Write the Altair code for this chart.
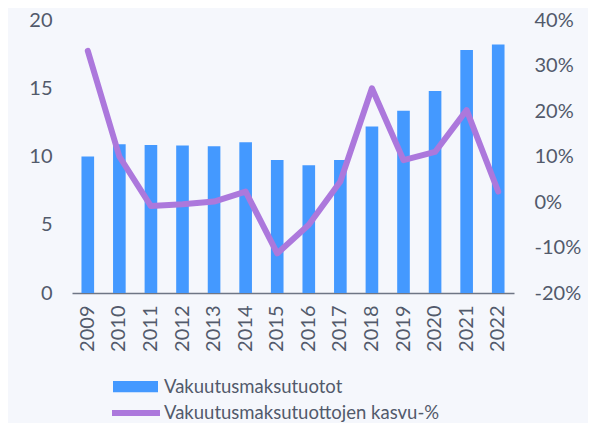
import altair as alt
import pandas as pd

years = ["2009", "2010", "2011", "2012", "2013", "2014", "2015",
         "2016", "2017", "2018", "2019", "2020", "2021", "2022"]
premiums = [10.0, 10.9, 10.85, 10.8, 10.75, 11.05, 9.75,
            9.35, 9.75, 12.2, 13.35, 14.8, 17.8, 18.2]
growth = [33.2, 10.0, -0.9, -0.5, 0.1, 2.3, -11.3,
          -5.0, 4.5, 25.0, 9.2, 11.0, 20.2, 2.3]
bar_name = "Vakuutusmaksutuotot"
line_name = "Vakuutusmaksutuottojen kasvu-%"

df = pd.DataFrame({"year": years, "premium": premiums, "growth": growth,
                   "s1": bar_name, "s2": line_name})

FONT = "Lato"
TXT = "#525a6b"
BAR = "#4499FF"
LINE = "#AC78DC"

x = alt.X("year:O", title=None,
          scale=alt.Scale(paddingInner=0.6, paddingOuter=0.3),
          axis=alt.Axis(labelAngle=-90, ticks=False, domainColor="#6f7685",
                        domainWidth=1.5, labelPadding=12))

bars = alt.Chart(df).mark_bar().encode(
    x=x,
    y=alt.Y("premium:Q", title=None,
            scale=alt.Scale(domain=[0, 20]),
            axis=alt.Axis(values=[0, 5, 10, 15, 20], grid=False, domain=False,
                          ticks=False, labelPadding=20)),
    color=alt.Color("s1:N", scale=alt.Scale(range=[BAR]),
                    legend=alt.Legend(title=None, orient="none", legendX=41, legendY=344,
                                      symbolType="M-1,-0.25H1V0.25H-1Z",
                                      symbolSize=2025, symbolStrokeWidth=0,
                                      labelOffset=6)),
)

line = alt.Chart(df).mark_line(strokeWidth=6, strokeCap="round", strokeJoin="round").encode(
    x=x,
    y=alt.Y("growth:Q", title=None,
            scale=alt.Scale(domain=[-20, 40]),
            axis=alt.Axis(orient="right", values=[-20, -10, 0, 10, 20, 30, 40],
                          labelExpr="datum.value + '%'", grid=False, domain=False,
                          ticks=False, labelPadding=20)),
    stroke=alt.Stroke("s2:N", scale=alt.Scale(range=[LINE]),
                      legend=alt.Legend(title=None, orient="none", legendX=37, legendY=366,
                                        symbolType="stroke", symbolSize=2304,
                                        symbolStrokeWidth=6, labelOffset=1)),
)

chart = alt.layer(bars, line).resolve_scale(y="independent").properties(
    width=442, height=273,
    autosize=alt.AutoSizeParams(type="none"),
    padding={"left": 64, "top": 12, "right": 74, "bottom": 130},
    background="#F5F7FC",
).configure_view(stroke=None).configure_axis(
    labelFont=FONT, labelFontSize=20, labelColor=TXT
).configure_legend(
    labelFont=FONT, labelFontSize=18.5, labelColor=TXT, padding=0, labelLimit=0
)

chart.save("out.html", embed_options={"renderer": "svg", "actions": False})
